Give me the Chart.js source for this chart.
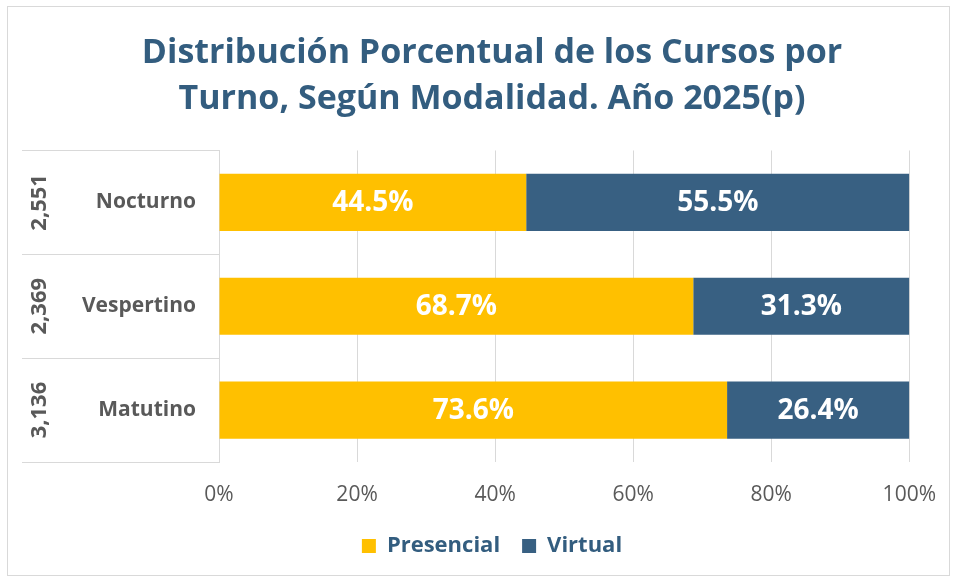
<!DOCTYPE html>
<html lang="es">
<head>
    <meta charset="UTF-8">
    <title>Distribución Porcentual de los Cursos por Turno</title>
    <script src="https://cdn.jsdelivr.net/npm/chart.js"></script>
    <style>
        html, body {
            margin: 0;
            padding: 0;
            background: #ffffff;
        }
        .chart-box {
            width: 956px;
            height: 579px;
        }
    </style>
</head>
<body>
    <div class="chart-box">
        <canvas id="chart" width="956" height="579"></canvas>
    </div>

    <script>
        // datos
        const categories = ['Nocturno', 'Vespertino', 'Matutino'];
        const totals = ['2,551', '2,369', '3,136'];
        const presencial = [44.5, 68.7, 73.6];
        const virtual = [55.5, 31.3, 26.4];
        const seriesNames = ['Presencial', 'Virtual'];

        const yellow = '#FFC000';
        const blue = '#386082';
        const gridColor = '#D9D9D9';
        const textGray = '#595959';
        const titleColor = '#335D7F';
        const font = "'Open Sans'";

        // borde exterior del gráfico
        const frame = {
            id: 'frame',
            beforeDraw(chart) {
                const ctx = chart.ctx;
                ctx.save();
                ctx.fillStyle = '#ffffff';
                ctx.fillRect(0, 0, chart.width, chart.height);
                ctx.strokeStyle = gridColor;
                ctx.lineWidth = 1;
                ctx.strokeRect(7.5, 6.5, 942, 569);
                ctx.restore();
            }
        };

        // eje de categorías con dos niveles (total + turno)
        const multiLevelAxis = {
            id: 'multiLevelAxis',
            afterDraw(chart) {
                const ctx = chart.ctx;
                const y = chart.scales.y;
                const area = chart.chartArea;
                const left = 22;
                const n = categories.length;
                const band = (area.bottom - area.top) / n;
                ctx.save();
                ctx.strokeStyle = gridColor;
                ctx.lineWidth = 1;
                for (let i = 0; i <= n; i++) {
                    const yy = Math.round(area.top + band * i) + 0.5;
                    ctx.beginPath();
                    ctx.moveTo(left, yy);
                    ctx.lineTo(area.left, yy);
                    ctx.stroke();
                }
                ctx.fillStyle = textGray;
                ctx.font = 'bold 22px ' + font;
                ctx.textAlign = 'center';
                ctx.textBaseline = 'middle';
                totals.forEach((t, i) => {
                    const cy = y.getPixelForValue(i);
                    ctx.save();
                    ctx.translate(40, cy);
                    ctx.rotate(-Math.PI / 2);
                    ctx.fillText(t, 0, 0);
                    ctx.restore();
                });
                ctx.restore();
            }
        };

        // etiquetas de datos dentro de las barras
        const barLabels = {
            id: 'barLabels',
            afterDatasetsDraw(chart) {
                const ctx = chart.ctx;
                ctx.save();
                ctx.fillStyle = '#ffffff';
                ctx.font = 'bold 28px ' + font;
                ctx.textAlign = 'center';
                ctx.textBaseline = 'middle';
                chart.data.datasets.forEach((ds, di) => {
                    chart.getDatasetMeta(di).data.forEach((bar, i) => {
                        const cx = (bar.x + bar.base) / 2;
                        ctx.fillText(ds.data[i].toFixed(1) + '%', cx, bar.y + 1);
                    });
                });
                ctx.restore();
            }
        };

        new Chart(document.getElementById('chart'), {
            type: 'bar',
            data: {
                labels: categories,
                datasets: [
                    { label: seriesNames[0], data: presencial, backgroundColor: yellow },
                    { label: seriesNames[1], data: virtual, backgroundColor: blue }
                ]
            },
            options: {
                indexAxis: 'y',
                responsive: false,
                animation: false,
                layout: { padding: { top: 10, right: 43, bottom: 12, left: 71 } },
                datasets: {
                    bar: { barPercentage: 0.55, categoryPercentage: 1 }
                },
                scales: {
                    x: {
                        stacked: true,
                        min: 0,
                        max: 100,
                        ticks: {
                            stepSize: 20,
                            color: textGray,
                            padding: 20,
                            font: { family: font, size: 21 },
                            callback: v => v + '%'
                        },
                        grid: { color: gridColor, drawTicks: false },
                        border: { display: false },
                        afterFit(scale) { scale.height = 51; }
                    },
                    y: {
                        stacked: true,
                        ticks: {
                            color: textGray,
                            padding: 15,
                            font: { family: font, size: 21, weight: 'bold' }
                        },
                        grid: { display: false },
                        border: { display: true, color: gridColor },
                        afterFit(scale) { scale.width = 148; }
                    }
                },
                plugins: {
                    title: {
                        display: true,
                        text: ['Distribución Porcentual de los Cursos por', 'Turno, Según Modalidad. Año 2025(p)'],
                        color: titleColor,
                        font: { family: font, size: 34, weight: 'bold', lineHeight: 1.36 },
                        padding: { top: 20, bottom: 28 }
                    },
                    legend: {
                        position: 'bottom',
                        labels: {
                            color: titleColor,
                            boxWidth: 14,
                            boxHeight: 14,
                            padding: 22,
                            font: { family: font, size: 22, weight: 'bold' }
                        }
                    },
                    tooltip: { enabled: false }
                }
            },
            plugins: [frame, multiLevelAxis, barLabels]
        });
    </script>
</body>
</html>
